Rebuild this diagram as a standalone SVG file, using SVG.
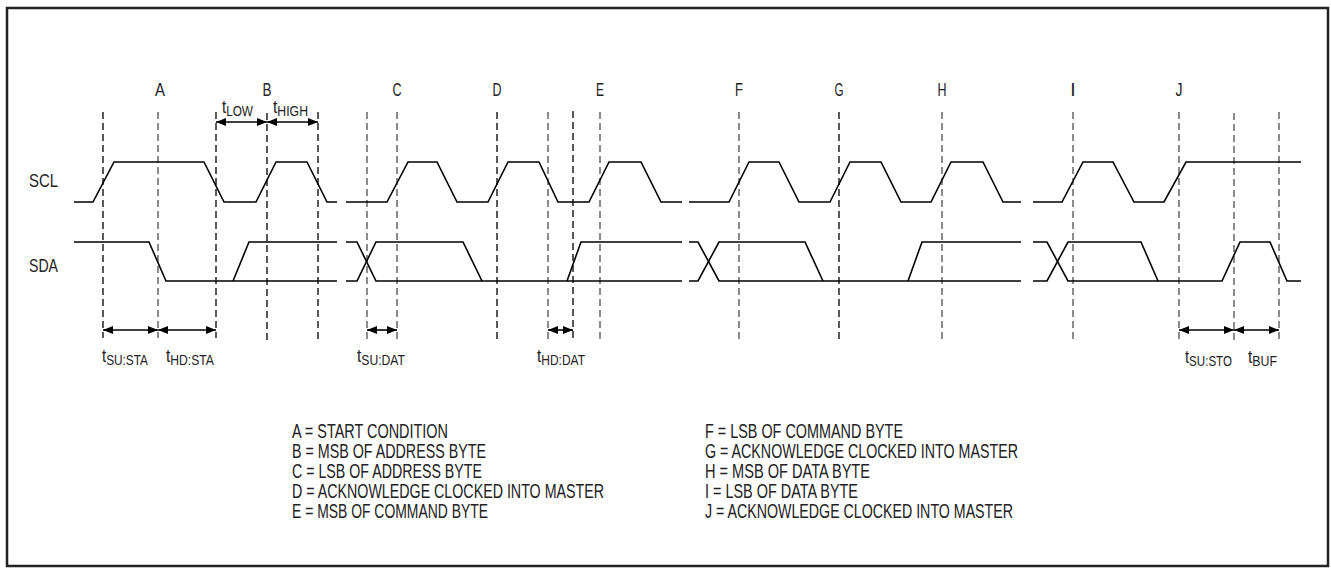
<svg xmlns="http://www.w3.org/2000/svg" width="1331" height="576" viewBox="0 0 1331 576">
<style>
  text { font-family: "Liberation Sans Narrow", "Liberation Sans", Arial, sans-serif; fill: #222; font-size: 19px; }
  .lbl { text-anchor: middle; }
  .lg { font-size: 19.5px; }
  .sub { font-size: 15px; }
  .wave { fill: none; stroke: #000; stroke-width: 1.6; stroke-linejoin: miter; }
  .dash { stroke: #000; stroke-width: 1.3; stroke-dasharray: 7 4; fill: none; }
  .dashg { stroke: #666; stroke-width: 1.5; stroke-dasharray: 7 4; fill: none; }
  .arr { stroke: #000; stroke-width: 1.6; fill: none; marker-start: url(#ah); marker-end: url(#ah); }
</style>
<defs>
  <marker id="ah" viewBox="0 0 10 8" refX="10" refY="4" markerWidth="10" markerHeight="8" markerUnits="userSpaceOnUse" orient="auto-start-reverse">
    <path d="M0,0 L10,4 L0,8 Z" fill="#000"/>
  </marker>
</defs>
<rect x="7" y="8" width="1321" height="558" fill="#fff" stroke="#222" stroke-width="2.5"/>

<g id="signal-labels">
  <text x="29" y="187" textLength="29" lengthAdjust="spacingAndGlyphs">SCL</text>
  <text x="29" y="272" textLength="29" lengthAdjust="spacingAndGlyphs">SDA</text>
</g>

<g id="point-labels">
  <text class="lbl" x="160" y="96" textLength="10" lengthAdjust="spacingAndGlyphs">A</text>
  <text class="lbl" x="267" y="96" textLength="9" lengthAdjust="spacingAndGlyphs">B</text>
  <text class="lbl" x="397" y="96" textLength="9" lengthAdjust="spacingAndGlyphs">C</text>
  <text class="lbl" x="497" y="96" textLength="9" lengthAdjust="spacingAndGlyphs">D</text>
  <text class="lbl" x="600" y="96" textLength="8" lengthAdjust="spacingAndGlyphs">E</text>
  <text class="lbl" x="739" y="96" textLength="8" lengthAdjust="spacingAndGlyphs">F</text>
  <text class="lbl" x="839" y="96" textLength="9" lengthAdjust="spacingAndGlyphs">G</text>
  <text class="lbl" x="942" y="96" textLength="9" lengthAdjust="spacingAndGlyphs">H</text>
  <text class="lbl" x="1073" y="96">I</text>
  <text class="lbl" x="1179" y="96" textLength="7" lengthAdjust="spacingAndGlyphs">J</text>
</g>

<g id="markers">
  <line class="dash" x1="103" y1="112" x2="103" y2="338"/>
  <line class="dashg" x1="158" y1="112" x2="158" y2="338"/>
  <line class="dash" x1="216" y1="112" x2="216" y2="338"/>
  <line class="dash" x1="267" y1="113" x2="267" y2="340"/>
  <line class="dash" x1="318" y1="112" x2="318" y2="340"/>
  <line class="dashg" x1="367" y1="112" x2="367" y2="340"/>
  <line class="dashg" x1="397" y1="112" x2="397" y2="340"/>
  <line class="dash" x1="497" y1="112" x2="497" y2="340"/>
  <line class="dashg" x1="548" y1="112" x2="548" y2="340"/>
  <line class="dash" x1="573" y1="111" x2="573" y2="340"/>
  <line class="dashg" x1="600" y1="112" x2="600" y2="340"/>
  <line class="dashg" x1="739" y1="112" x2="739" y2="340"/>
  <line class="dash" x1="839" y1="112" x2="839" y2="340"/>
  <line class="dashg" x1="942" y1="112" x2="942" y2="340"/>
  <line class="dashg" x1="1073" y1="112" x2="1073" y2="340"/>
  <line class="dashg" x1="1179" y1="112" x2="1179" y2="340"/>
  <line class="dashg" x1="1234" y1="113" x2="1234" y2="340"/>
  <line class="dashg" x1="1279" y1="112" x2="1279" y2="340"/>
</g>

<g id="scl">
  <polyline class="wave" points="74,202 93,202 114,162 204,162 224,202 256,202 276,162 307,162 327,202 337,202"/>
  <polyline class="wave" points="346,202 387,202 408,162 437,162 457,202 488,202 508,162 539,162 558,202 589,202 609,162 641,162 661,202 682,202"/>
  <polyline class="wave" points="689,202 729,202 749,162 779,162 799,202 830,202 850,162 881,162 901,202 931,202 951,162 983,162 1003,202 1021,202"/>
  <polyline class="wave" points="1033,202 1062,202 1083,162 1113,162 1134,202 1164,202 1186,162 1301,162"/>
</g>

<g id="sda">
  <polyline class="wave" points="74,242 149,242 166,281 337,281"/>
  <polyline class="wave" points="233,281 249,242 337,242"/>
  <polyline class="wave" points="346,242 357,242 376,281 682,281"/>
  <polyline class="wave" points="346,281 357,281 376,242 463,242 482,281"/>
  <polyline class="wave" points="567,281 581,242 682,242"/>
  <polyline class="wave" points="689,242 698,242 719,281 1021,281"/>
  <polyline class="wave" points="689,281 698,281 719,242 805,242 823,281"/>
  <polyline class="wave" points="908,281 922,242 1021,242"/>
  <polyline class="wave" points="1033,242 1047,242 1068,281 1222,281 1240,242 1270,242 1287,281 1301,281"/>
  <polyline class="wave" points="1033,281 1047,281 1068,242 1141,242 1158,281"/>
</g>

<g id="connectors">
  <line class="arr" x1="216" y1="122" x2="267" y2="122"/>
  <line class="arr" x1="267" y1="122" x2="318" y2="122"/>
  <line class="arr" x1="103" y1="330" x2="158" y2="330"/>
  <line class="arr" x1="158" y1="330" x2="216" y2="330"/>
  <line class="arr" x1="367" y1="330" x2="397" y2="330"/>
  <line class="arr" x1="548" y1="330" x2="573" y2="330"/>
  <line class="arr" x1="1179" y1="330" x2="1234" y2="330"/>
  <line class="arr" x1="1234" y1="330" x2="1279" y2="330"/>
</g>

<g id="timing-labels">
  <text x="222" y="113" textLength="31" lengthAdjust="spacingAndGlyphs">t<tspan class="sub" dy="3">LOW</tspan></text>
  <text x="273" y="113" textLength="35" lengthAdjust="spacingAndGlyphs">t<tspan class="sub" dy="3">HIGH</tspan></text>
  <text x="102" y="362" textLength="46" lengthAdjust="spacingAndGlyphs">t<tspan class="sub" dy="3">SU:STA</tspan></text>
  <text x="166" y="362" textLength="48" lengthAdjust="spacingAndGlyphs">t<tspan class="sub" dy="3">HD:STA</tspan></text>
  <text x="357" y="362" textLength="48" lengthAdjust="spacingAndGlyphs">t<tspan class="sub" dy="3">SU:DAT</tspan></text>
  <text x="537" y="362" textLength="48" lengthAdjust="spacingAndGlyphs">t<tspan class="sub" dy="3">HD:DAT</tspan></text>
  <text x="1185" y="363" textLength="47" lengthAdjust="spacingAndGlyphs">t<tspan class="sub" dy="3">SU:STO</tspan></text>
  <text x="1248" y="363" textLength="29" lengthAdjust="spacingAndGlyphs">t<tspan class="sub" dy="3">BUF</tspan></text>
</g>

<g id="legend-left">
  <text class="lg" x="292" y="438" textLength="156" lengthAdjust="spacingAndGlyphs">A = START CONDITION</text>
  <text class="lg" x="292" y="458" textLength="194" lengthAdjust="spacingAndGlyphs">B = MSB OF ADDRESS BYTE</text>
  <text class="lg" x="292" y="478" textLength="190" lengthAdjust="spacingAndGlyphs">C = LSB OF ADDRESS BYTE</text>
  <text class="lg" x="292" y="498" textLength="312" lengthAdjust="spacingAndGlyphs">D = ACKNOWLEDGE CLOCKED INTO MASTER</text>
  <text class="lg" x="292" y="518" textLength="196" lengthAdjust="spacingAndGlyphs">E = MSB OF COMMAND BYTE</text>
</g>

<g id="legend-right">
  <text class="lg" x="705" y="438" textLength="198" lengthAdjust="spacingAndGlyphs">F = LSB OF COMMAND BYTE</text>
  <text class="lg" x="705" y="458" textLength="313" lengthAdjust="spacingAndGlyphs">G = ACKNOWLEDGE CLOCKED INTO MASTER</text>
  <text class="lg" x="705" y="478" textLength="165" lengthAdjust="spacingAndGlyphs">H = MSB OF DATA BYTE</text>
  <text class="lg" x="705" y="498" textLength="153" lengthAdjust="spacingAndGlyphs">I = LSB OF DATA BYTE</text>
  <text class="lg" x="705" y="518" textLength="308" lengthAdjust="spacingAndGlyphs">J = ACKNOWLEDGE CLOCKED INTO MASTER</text>
</g>
</svg>
